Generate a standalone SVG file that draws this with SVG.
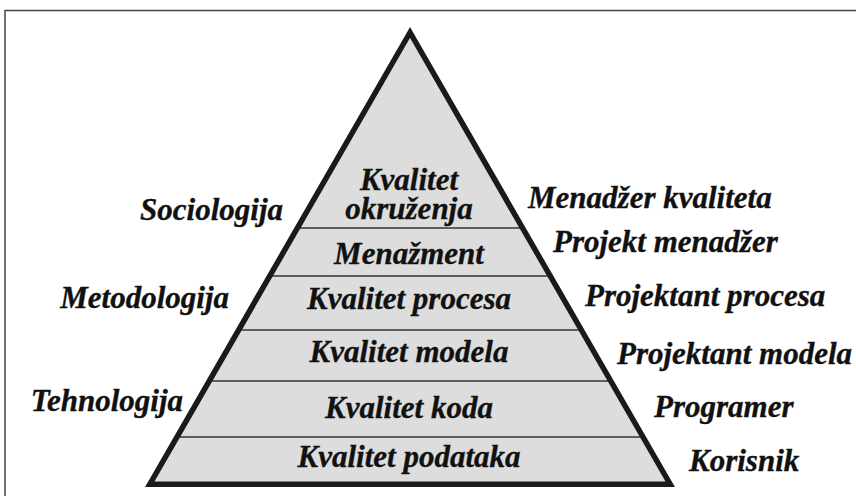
<svg xmlns="http://www.w3.org/2000/svg" width="856" height="496" viewBox="0 0 856 496">
<style>
text{font-family:"Liberation Serif","Times New Roman",serif;font-weight:bold;font-style:italic;font-size:31px;fill:#111;stroke:#111;stroke-width:0.35}
.c{text-anchor:middle}
.l{text-anchor:end}
.r{text-anchor:start}
.div{stroke:#333;stroke-width:1.5}
</style>
<rect x="0" y="0" width="856" height="496" fill="#fff"/>
<path d="M5,500 V10.5 H860" fill="none" stroke="#444" stroke-width="1.5"/>
<g id="pyramid">
<polygon points="410,32.5 149.8,484.25 670.2,484.25" fill="#dddddd"/>
</g>
<g id="connectors">
<line class="div" x1="297.4" y1="228" x2="522.6" y2="228"/>
<line class="div" x1="269.7" y1="276" x2="550.3" y2="276"/>
<line class="div" x1="238.6" y1="330" x2="581.4" y2="330"/>
<line class="div" x1="209.3" y1="381" x2="610.7" y2="381"/>
<line class="div" x1="177" y1="437" x2="643" y2="437"/>
</g>
<polygon points="410,32.5 149.8,484.25 670.2,484.25" fill="none" stroke="#1a1a1a" stroke-width="5.5" stroke-linejoin="miter" stroke-miterlimit="10"/>
<g id="layer-okruzenje"><text class="c" x="409" y="190">Kvalitet</text><text class="c" x="409" y="219">okruženja</text></g>
<g id="layer-menazment"><text class="c" x="409" y="264">Menažment</text></g>
<g id="layer-proces"><text class="c" x="409" y="309">Kvalitet procesa</text></g>
<g id="layer-model"><text class="c" x="409" y="362">Kvalitet modela</text></g>
<g id="layer-kod"><text class="c" x="409" y="418">Kvalitet koda</text></g>
<g id="layer-podaci"><text class="c" x="409" y="467">Kvalitet podataka</text></g>
<g id="left-sociologija"><text class="l" x="283" y="220">Sociologija</text></g>
<g id="left-metodologija"><text class="l" x="229" y="308">Metodologija</text></g>
<g id="left-tehnologija"><text class="l" x="183" y="411">Tehnologija</text></g>
<g id="right-menadzer-kvaliteta"><text class="r" x="528" y="208">Menadžer kvaliteta</text></g>
<g id="right-projekt-menadzer"><text class="r" x="553" y="252">Projekt menadžer</text></g>
<g id="right-projektant-procesa"><text class="r" x="585" y="306">Projektant procesa</text></g>
<g id="right-projektant-modela"><text class="r" x="617" y="364">Projektant modela</text></g>
<g id="right-programer"><text class="r" x="654" y="417">Programer</text></g>
<g id="right-korisnik"><text class="r" x="689" y="471">Korisnik</text></g>
</svg>
